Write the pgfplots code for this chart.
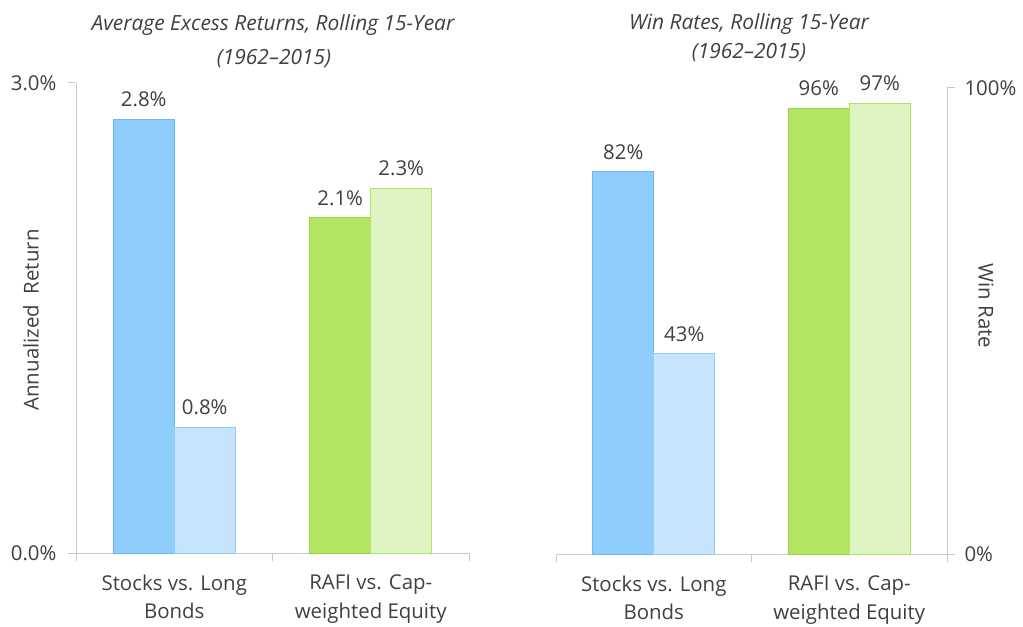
\documentclass[border=0pt]{standalone}
\usepackage{pgfplots}
\pgfplotsset{compat=1.18}
\usepackage{fontspec}
\setmainfont{Open Sans}
\definecolor{txt}{HTML}{404040}
\definecolor{axgray}{HTML}{C8C8C8}
\definecolor{blueD}{HTML}{8FCDFC}
\definecolor{blueDe}{HTML}{6EB8F2}
\definecolor{blueL}{HTML}{C6E5FD}
\definecolor{blueLe}{HTML}{90CDFB}
\definecolor{greenD}{HTML}{B3E462}
\definecolor{greenDe}{HTML}{9ED447}
\definecolor{greenL}{HTML}{DFF4C3}
\definecolor{greenLe}{HTML}{B3E462}
\newcommand{\fs}{\fontsize{20.5}{27}\selectfont}
\newcommand{\fsx}{\fontsize{20.5}{29}\selectfont}
\pgfplotsset{
 common/.style={
  scale only axis,
  ybar, bar width=61bp,
  xmin=-0.5, xmax=1.5,
  xtick={-0.5,0.5,1.5},
  x tick label as interval,
  xticklabels={Stocks vs. Long\\Bonds, RAFI vs. Cap-\\weighted Equity},
  xticklabel style={align=center, font=\fsx, text=txt, yshift=-10bp},
  major tick length=8bp,
  tick align=outside,
  tick style={draw=axgray, line width=1bp},
  axis line style={draw=axgray, line width=1bp},
  axis x line*=bottom,
  yticklabel style={font=\fs, text=txt},
  nodes near coords,
  point meta=explicit symbolic,
  every node near coord/.append style={font=\fs, text=txt, anchor=south, inner sep=0pt, yshift=12bp},
  clip=false,
 },
 dk/.style={bar shift=-30.5bp, line width=0.8bp},
 lt/.style={bar shift=30.5bp, line width=0.8bp},
}
\begin{document}
\begin{tikzpicture}
\path[use as bounding box] (0bp,0bp) rectangle (1023bp,627bp);
% left panel
\begin{axis}[common,
  at={(76bp,74bp)}, anchor=south west,
  width=393bp, height=470bp,
  ymin=0, ymax=3.0,
  axis y line*=left,
  ytick={0,3},
  yticklabels={0.0\%,3.0\%},
  yticklabel style={xshift=-8bp},
]
\addplot[dk, fill=blueD, draw=blueDe] coordinates {(0,2.77) [2.8\%]};
\addplot[lt, fill=blueL, draw=blueLe] coordinates {(0,0.80) [0.8\%]};
\addplot[dk, fill=greenD, draw=greenDe] coordinates {(1,2.14) [2.1\%]};
\addplot[lt, fill=greenL, draw=greenLe] coordinates {(1,2.33) [2.3\%]};
\end{axis}
% right panel
\begin{axis}[common,
  at={(556bp,73bp)}, anchor=south west,
  width=391bp, height=466bp,
  ymin=0, ymax=100,
  axis y line*=right,
  ytick={0,100},
  yticklabels={0\%,100\%},
  yticklabel style={xshift=6bp, anchor=west},
]
\addplot[dk, fill=blueD, draw=blueDe] coordinates {(0,82) [82\%]};
\addplot[lt, fill=blueL, draw=blueLe] coordinates {(0,43) [43\%]};
\addplot[dk, fill=greenD, draw=greenDe] coordinates {(1,95.7) [96\%]};
\addplot[lt, fill=greenL, draw=greenLe] coordinates {(1,96.7) [97\%]};
\end{axis}
\node[font=\fontsize{21}{22}\selectfont\itshape, text=txt] at (273bp,602bp) {Average Excess Returns, Rolling 15-Year};
\node[font=\fontsize{21}{22}\selectfont\itshape, text=txt] at (274bp,568bp) {(1962--2015)};
\node[font=\fontsize{21}{22}\selectfont\itshape, text=txt] at (749bp,603bp) {Win Rates, Rolling 15-Year};
\node[font=\fontsize{21}{22}\selectfont\itshape, text=txt] at (749bp,574bp) {(1962--2015)};
\node[font=\fs, text=txt, rotate=90] at (31bp,307bp) {Annualized\ \ Return};
\node[font=\fs, text=txt, rotate=-90] at (986bp,321bp) {Win Rate};
\end{tikzpicture}
\end{document}
